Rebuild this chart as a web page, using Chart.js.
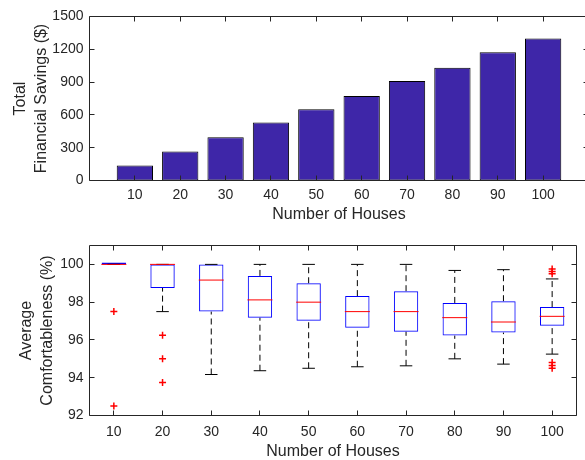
<!DOCTYPE html>
<html>
<head>
<meta charset="utf-8">
<script src="https://cdn.jsdelivr.net/npm/chart.js@4.4.1/dist/chart.umd.min.js"></script>
<style>
  html, body { margin: 0; padding: 0; background: #fff; }
  #wrap { position: relative; width: 585px; height: 460px; overflow: hidden; }
  #savingsChart { position: absolute; left: 0; top: 0; }
  #comfortChart { position: absolute; left: 0; top: 230px; }
</style>
</head>
<body>
<div id="wrap">
  <canvas id="savingsChart" width="590" height="230"></canvas>
  <canvas id="comfortChart" width="590" height="240"></canvas>
</div>
<script>
// top panel
const houses = [10, 20, 30, 40, 50, 60, 70, 80, 90, 100];
const savings = [138, 265, 396, 530, 652, 774, 911, 1031, 1174, 1299];
const savingsTicks = [0, 300, 600, 900, 1200, 1500];

// bottom panel (box plot stats per group)
const whiskerLow = [100, 97.5, 94.17, 94.37, 94.5, 94.58, 94.63, 95.0, 94.72, 95.25];
const boxLow = [100, 98.75, 97.5, 97.18, 97.02, 96.65, 96.44, 96.23, 96.39, 96.75];
const medians = [100, 100, 99.17, 98.12, 98.0, 97.5, 97.5, 97.18, 96.95, 97.25];
const boxHigh = [100, 100, 100, 99.39, 99.0, 98.32, 98.58, 97.96, 98.05, 97.74];
const whiskerHigh = [100, 100, 100, 100, 100, 100, 100, 99.68, 99.72, 99.23];
const outlierHouses = [10, 10, 20, 20, 20, 100, 100, 100, 100, 100, 100];
const outlierValues = [97.5, 92.5, 96.25, 95, 93.75, 99.75, 99.62, 99.5, 94.8, 94.65, 94.5];
const comfortTicks = [92, 94, 96, 98, 100];

const axisColor = '#262626';
const family = '"Liberation Sans", Arial, Helvetica, sans-serif';
const tickFont = { family, size: 14 };
const titleFont = { family, size: 16, lineHeight: 1.3125 };
const plain = v => String(v);

// MATLAB style box around the axes with inward ticks
const boxFrame = {
  id: 'boxFrame',
  afterDatasetsDraw(chart) {
    const { ctx, chartArea: a, scales: { x, y } } = chart;
    const len = 5;
    const crisp = v => Math.floor(v) + 0.5;
    ctx.save();
    ctx.strokeStyle = axisColor;
    ctx.lineWidth = 1;
    ctx.beginPath();
    ctx.rect(a.left, a.top, a.right - a.left, a.bottom - a.top);
    x.ticks.forEach((t, i) => {
      const px = crisp(x.getPixelForTick(i));
      ctx.moveTo(px, a.bottom); ctx.lineTo(px, a.bottom - len);
      ctx.moveTo(px, a.top); ctx.lineTo(px, a.top + len);
    });
    y.ticks.forEach((t, i) => {
      const py = crisp(y.getPixelForTick(i));
      ctx.moveTo(a.left, py); ctx.lineTo(a.left + len, py);
      ctx.moveTo(a.right, py); ctx.lineTo(a.right - len, py);
    });
    ctx.stroke();
    ctx.restore();
  }
};

const baseOptions = {
  responsive: false,
  animation: false,
  events: [],
  plugins: { legend: { display: false }, tooltip: { enabled: false } }
};

new Chart(document.getElementById('savingsChart'), {
  type: 'bar',
  data: {
    datasets: [{
      data: houses.map((h, i) => ({ x: h, y: savings[i] })),
      backgroundColor: 'rgb(62,38,168)',
      borderColor: '#000',
      borderWidth: 1,
      borderSkipped: false,
      barPercentage: 0.8,
      categoryPercentage: 1
    }]
  },
  options: {
    ...baseOptions,
    layout: { padding: { top: 16.5, right: 1.5, left: 0, bottom: 0 } },
    scales: {
      x: {
        type: 'linear', min: 0, max: 110, offset: false,
        grid: { display: false, drawTicks: false },
        border: { display: false },
        afterBuildTicks: s => { s.ticks = houses.map(v => ({ value: v })); },
        afterFit: s => { s.height = 49.5; },
        ticks: { padding: 6, color: axisColor, font: tickFont, maxRotation: 0, autoSkip: false, callback: plain },
        title: { display: true, text: 'Number of Houses', color: axisColor, font: titleFont, padding: { top: 0, bottom: 4.5 } }
      },
      y: {
        min: 0, max: 1500,
        grid: { display: false, drawTicks: false },
        border: { display: false },
        afterBuildTicks: s => { s.ticks = savingsTicks.map(v => ({ value: v })); },
        afterFit: s => { s.width = 89.5; },
        ticks: { padding: 6, color: axisColor, font: tickFont, callback: plain },
        title: { display: true, text: ['Total', 'Financial Savings ($)'], color: axisColor, font: titleFont, padding: { top: 10, bottom: 0 } }
      }
    }
  },
  plugins: [boxFrame]
});

const houseLabels = houses.map(String);
const whiskerPoints = [];
houseLabels.forEach((h, i) => {
  whiskerPoints.push({ x: h, y: boxHigh[i] }, { x: h, y: whiskerHigh[i] }, { x: h, y: null });
  whiskerPoints.push({ x: h, y: whiskerLow[i] }, { x: h, y: boxLow[i] }, { x: h, y: null });
});
const capPoints = houseLabels.flatMap((h, i) => [{ x: h, y: whiskerHigh[i] }, { x: h, y: whiskerLow[i] }]);

new Chart(document.getElementById('comfortChart'), {
  type: 'bar',
  data: {
    labels: houseLabels,
    datasets: [
      {
        type: 'line', data: whiskerPoints, borderColor: '#000', borderWidth: 1,
        borderDash: [6, 4], pointRadius: 0, spanGaps: false, order: 5
      },
      {
        type: 'bar', data: boxLow.map((v, i) => [v, boxHigh[i]]),
        backgroundColor: 'rgba(0,0,0,0)', borderColor: '#0000ff', borderWidth: 1,
        borderSkipped: false, barPercentage: 0.5, categoryPercentage: 1, minBarLength: 2, order: 4
      },
      {
        type: 'scatter', data: capPoints, pointStyle: 'line', pointRadius: 6.25,
        pointBorderColor: '#000', pointBorderWidth: 1, order: 3
      },
      {
        type: 'scatter', data: houseLabels.map((h, i) => ({ x: h, y: medians[i] })),
        pointStyle: 'line', pointRadius: 12.5, pointBorderColor: '#ff0000', pointBorderWidth: 1, order: 2
      },
      {
        type: 'scatter', data: outlierHouses.map((h, i) => ({ x: String(h), y: outlierValues[i] })),
        pointStyle: 'cross', pointRadius: 3.5, pointBorderColor: '#ff0000', pointBorderWidth: 1.5, order: 1
      }
    ]
  },
  options: {
    ...baseOptions,
    layout: { padding: { top: 15.5, right: 1.5, left: 0, bottom: 0 } },
    scales: {
      x: {
        type: 'category', offset: true,
        grid: { display: false, drawTicks: false },
        border: { display: false },
        afterFit: s => { s.height = 54.5; },
        ticks: { padding: 8, color: axisColor, font: tickFont, maxRotation: 0, autoSkip: false },
        title: { display: true, text: 'Number of Houses', color: axisColor, font: titleFont, padding: { top: 0, bottom: 7.5 } }
      },
      y: {
        min: 92, max: 101,
        grid: { display: false, drawTicks: false },
        border: { display: false },
        afterBuildTicks: s => { s.ticks = comfortTicks.map(v => ({ value: v })); },
        afterFit: s => { s.width = 89.5; },
        ticks: { padding: 6, color: axisColor, font: tickFont, callback: plain },
        title: { display: true, text: ['Average', 'Comfortableness (%)'], color: axisColor, font: titleFont, padding: { top: 16, bottom: 0 } }
      }
    }
  },
  plugins: [boxFrame]
});
</script>
</body>
</html>
